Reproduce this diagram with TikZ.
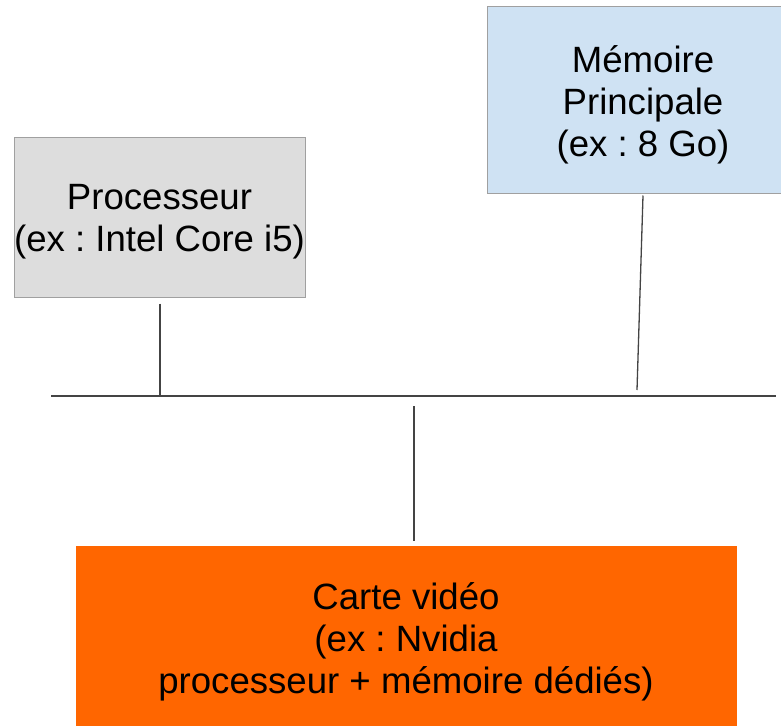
\documentclass[tikz,border=0pt]{standalone}
\usepackage{fontspec}
\setmainfont{Liberation Sans}
\usetikzlibrary{calc}
\definecolor{procfill}{HTML}{DDDDDD}
\definecolor{memfill}{HTML}{CFE2F3}
\definecolor{cardfill}{HTML}{FF6600}
\definecolor{boxline}{HTML}{A0A0A0}
\definecolor{wire}{HTML}{444444}
\tikzset{
  box/.style={rectangle, draw=boxline, line width=1pt, inner sep=0pt},
  boxtext/.style={inner sep=0pt, align=center,
    font=\frenchspacing\fontsize{36.6}{42}\selectfont, text=black},
  wireline/.style={draw=wire, line width=1.3pt}
}
\begin{document}
\begin{tikzpicture}[x=1pt,y=-1pt]
\useasboundingbox (0,0) rectangle (781,725);
\node[box, fill=procfill, minimum width=291pt, minimum height=160pt] (proc) at (159.5,217) {};
\node[boxtext] (proct) at (159.5,222) {Processeur\\(ex : Intel Core i5)};
\node[box, fill=memfill, minimum width=312pt, minimum height=186pt] (mem) at (643,100) {};
\node[boxtext] (memt) at (643,105) {Mémoire\\Principale\\(ex : 8 Go)};
\node[box, fill=cardfill, draw=cardfill, minimum width=660pt, minimum height=184pt] (card) at (406,638) {};
\node[boxtext] (cardt) at (406,642) {Carte vidéo\\(ex : Nvidia\\processeur + mémoire dédiés)};
\coordinate (busL) at (51,396);
\coordinate (busR) at (776,396);
\coordinate (pj) at (160,396);
\coordinate (mj) at (637,390);
\coordinate (cj) at (414,406);
\draw[wireline] (busL) -- (busR);
\draw[wireline] ($(proc.south)+(0.5,6)$) -- (pj);
\draw[wireline] ($(mem.south)+(0,2)$) -- (mj);
\draw[wireline] (cj) -- ($(card.north)+(8,-5)$);
\end{tikzpicture}
\end{document}
